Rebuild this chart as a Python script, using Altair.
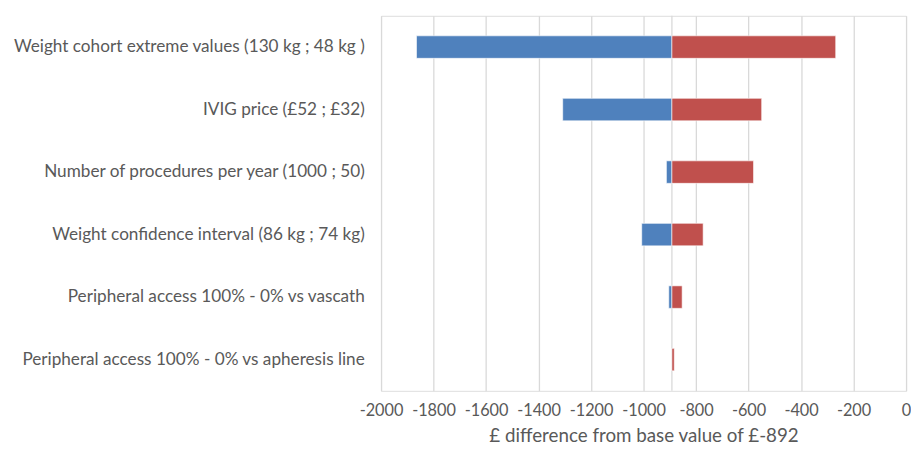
import altair as alt
import pandas as pd

base_value = -892
parameters = [
    "Weight cohort extreme values (130 kg ; 48 kg )",
    "IVIG price (£52 ; £32)",
    "Number of procedures per year (1000 ; 50)",
    "Weight confidence interval (86 kg ; 74 kg)",
    "Peripheral access 100% - 0% vs vascath",
    "Peripheral access 100% - 0% vs apheresis line",
]
low_values = [-1865, -1308, -913, -1007, -904, -892]
high_values = [-268, -550, -581, -773, -853, -883]
x_ticks = list(range(-2000, 1, 200))

rows = []
for p, lo, hi in zip(parameters, low_values, high_values):
    rows.append({"param": p, "side": "low", "start": base_value, "end": lo})
    rows.append({"param": p, "side": "high", "start": base_value, "end": hi})
df = pd.DataFrame(rows)

FONT = "Lato"
GREY = "#595959"

x_scale = alt.Scale(domain=[-2000, 0], nice=False, zero=False)

bars = alt.Chart(df).mark_bar(stroke="white", strokeWidth=1, strokeOpacity=0.6).encode(
    y=alt.Y("param:N", sort=parameters, title=None,
            scale=alt.Scale(paddingInner=0.64, paddingOuter=0.32),
            axis=alt.Axis(domain=False, ticks=False, labelPadding=17, labelLimit=0,
                          labelFontSize=17.4, labelColor=GREY, labelFont=FONT)),
    x=alt.X("start:Q", scale=x_scale,
            title="£ difference from base value of £-892",
            axis=alt.Axis(values=x_ticks, domain=False, ticks=False, grid=True,
                          gridColor="#D9D9D9", gridWidth=1.3,
                          labelExpr="'' + datum.value", labelOverlap=False,
                          labelFlush=False,
                          labelFontSize=16.5, labelColor=GREY, labelFont=FONT,
                          labelPadding=12, titleFontSize=19, titleColor=GREY,
                          titleFont=FONT, titleFontWeight="normal", titlePadding=8)),
    x2="end:Q",
    color=alt.Color("side:N", scale=alt.Scale(domain=["low", "high"],
                                              range=["#4F81BD", "#C0504D"]),
                    legend=None),
)

base_df = pd.DataFrame({"base": [base_value]})
base_rule = alt.Chart(base_df).mark_rule(color="#D9D9D9", strokeWidth=1.3).encode(
    x=alt.X("base:Q", scale=x_scale)
)

chart = alt.layer(base_rule, bars).properties(
    width=532, height=380,
    padding={"left": 4, "top": 4, "right": 0, "bottom": 0},
).configure_view(stroke=None).configure(background="white")

chart.save("out.html", embed_options={"renderer": "svg", "actions": False})
